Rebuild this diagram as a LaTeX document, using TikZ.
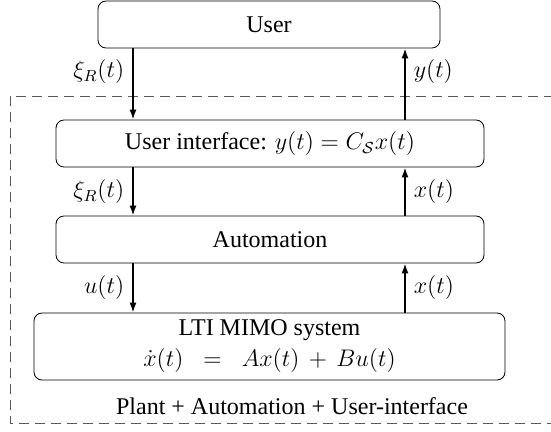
\documentclass[tikz,border=0pt,12pt]{standalone}
\usepackage{fontspec}
\setmainfont{Liberation Serif}
\usetikzlibrary{arrows.meta}
\begin{document}
\begin{tikzpicture}[x=0.5pt,y=-0.5pt,
  block/.style={draw,rounded corners=4pt,minimum height=23.5pt,inner sep=0pt},
  signal/.style={-{Latex[length=5pt,width=3.5pt]},thick}]
\useasboundingbox (0,0) rectangle (551,432);
\draw[gray!70!black,dash pattern=on 5pt off 3pt] (570,96) -- (10,96) -- (10,423) -- (570,423);
\node[block,minimum width=171pt] (user) at (269,24.5) {User};
\node[block,minimum width=214pt] (ui) at (270,143.5) {User interface: $y(t)=C_{\mathcal{S}}x(t)$};
\node[block,minimum width=214pt] (auto) at (270,239.5) {Automation};
\node[block,minimum width=235.5pt,minimum height=33.5pt,align=center] (lti) at (269.5,346.5)
  {LTI MIMO system\\[1pt] $\dot{x}(t) \;\;=\;\; Ax(t) \,+\, Bu(t)$};
\node (caption) at (292,406) {Plant + Automation + User-interface};
\coordinate (L) at (133,0);
\coordinate (R) at (405,0);
\draw[signal] (user.south -| L) -- node[left,pos=0.33] {$\xi_R(t)$} (ui.north -| L);
\draw[signal] (ui.north -| R) -- node[right,pos=0.67] {$y(t)$} (user.south -| R);
\draw[signal] (ui.south -| L) -- node[left] {$\xi_R(t)$} (auto.north -| L);
\draw[signal] (auto.north -| R) -- node[right] {$x(t)$} (ui.south -| R);
\draw[signal] (auto.south -| L) -- node[left] {$u(t)$} (lti.north -| L);
\draw[signal] (lti.north -| R) -- node[right] {$x(t)$} (auto.south -| R);
\end{tikzpicture}
\end{document}
